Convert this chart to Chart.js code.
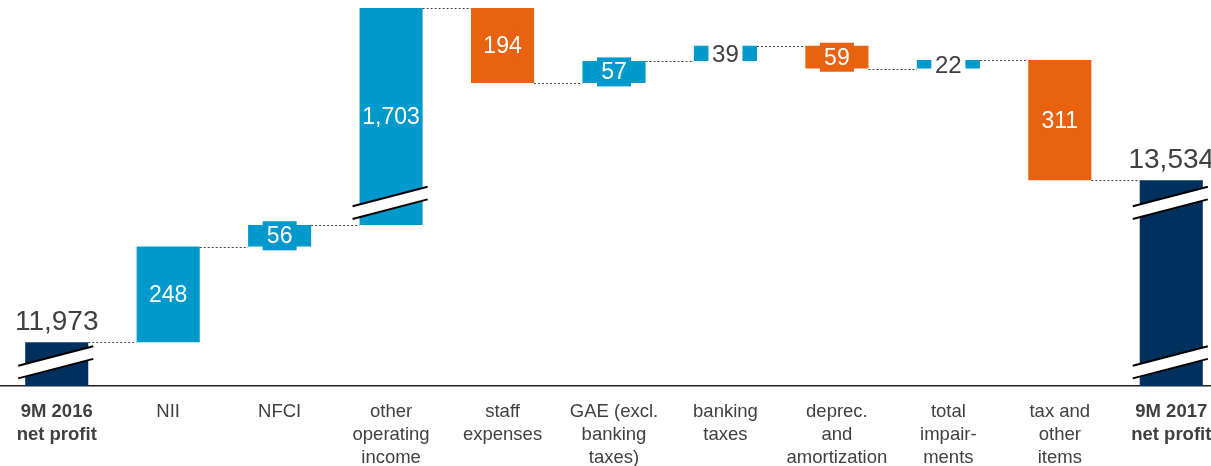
<!DOCTYPE html>
<html>
<head>
<meta charset="utf-8">
<script src="https://cdn.jsdelivr.net/npm/chart.js@4"></script>
<style>
  html, body { margin: 0; padding: 0; background: #fff; overflow: hidden; }
  #wrap { width: 1228px; height: 466px; }
</style>
</head>
<body>
<div id="wrap"><canvas id="bridge"></canvas></div>
<script>
// net profit bridge, 9M 2016 -> 9M 2017
const categories = [
  ['9M 2016', 'net profit'], ['NII'], ['NFCI'], ['other', 'operating', 'income'],
  ['staff', 'expenses'], ['GAE (excl.', 'banking', 'taxes)'], ['banking', 'taxes'],
  ['deprec.', 'and', 'amortization'], ['total', 'impair-', 'ments'],
  ['tax and', 'other', 'items'], ['9M 2017', 'net profit']
];
const startTotal = 11973;
const deltas = [248, 56, 1703, -194, 57, 39, -59, 22, -311];
const endTotal = 13534;
// stretches of the value axis that are cut out (drawn as breaks)
const axisGaps = [[62, 11922], [12335, 13476]];

const NAVY = '#00305e';
const BLUE = '#0099cc';
const ORANGE = '#e8620f';
const TEXT = '#404040';
const FONT = '"Liberation Sans", Arial, sans-serif';

function toAxis(v) {
  let d = v;
  for (const [a, b] of axisGaps) {
    if (v >= b) d -= (b - a);
    else if (v > a) d -= (v - a);
  }
  return d;
}

// build floating bars
const realRanges = [[0, startTotal]];
let running = startTotal;
let peak = startTotal;
deltas.forEach(d => {
  realRanges.push([running, running + d]);
  running += d;
  peak = Math.max(peak, running);
});
realRanges.push([0, endTotal]);

const barData = realRanges.map(r => [toAxis(r[0]), toAxis(r[1])]);
const barColors = realRanges.map((r, i) => {
  if (i === 0 || i === realRanges.length - 1) return NAVY;
  return r[1] >= r[0] ? BLUE : ORANGE;
});
const barLabels = realRanges.map((r, i) => {
  if (i === 0 || i === realRanges.length - 1) return r[1].toLocaleString('en-US');
  return Math.abs(r[1] - r[0]).toLocaleString('en-US');
});

const bridgePlugin = {
  id: 'bridge',
  afterDatasetsDraw(chart) {
    const ctx = chart.ctx;
    const y = chart.scales.y;
    const bars = chart.getDatasetMeta(0).data;
    const last = bars.length - 1;

    // dotted connectors at running totals
    ctx.save();
    ctx.strokeStyle = '#444';
    ctx.lineWidth = 1;
    ctx.setLineDash([2, 2]);
    for (let i = 0; i < last; i++) {
      const a = bars[i].getProps(['x', 'width'], true);
      const b = bars[i + 1].getProps(['x', 'width'], true);
      const level = realRanges[i][1];
      const py = Math.round(y.getPixelForValue(toAxis(level))) + 0.5;
      ctx.beginPath();
      ctx.moveTo(a.x + a.width / 2, py);
      ctx.lineTo(b.x - b.width / 2, py);
      ctx.stroke();
    }
    ctx.restore();

    // break marks where a bar crosses a cut
    bars.forEach((bar, i) => {
      const p = bar.getProps(['x', 'width'], true);
      const lo = Math.min(...realRanges[i]);
      const hi = Math.max(...realRanges[i]);
      axisGaps.forEach(([a, b]) => {
        if (lo >= a || hi <= b) return;
        const cy = y.getPixelForValue(toAxis(a));
        const x0 = p.x - p.width / 2 - 7;
        const x1 = p.x + p.width / 2 + 5;
        const slope = -19 / 73;
        const yAt = (x, off) => cy + off + (x - p.x) * slope;
        ctx.save();
        ctx.fillStyle = '#fff';
        ctx.beginPath();
        ctx.moveTo(x0, yAt(x0, -6.3));
        ctx.lineTo(x1, yAt(x1, -6.3));
        ctx.lineTo(x1, yAt(x1, 6.3));
        ctx.lineTo(x0, yAt(x0, 6.3));
        ctx.closePath();
        ctx.fill();
        ctx.strokeStyle = '#000';
        ctx.lineWidth = 2;
        [-6.3, 6.3].forEach(off => {
          ctx.beginPath();
          ctx.moveTo(x0, yAt(x0, off));
          ctx.lineTo(x1, yAt(x1, off));
          ctx.stroke();
        });
        ctx.restore();
      });
    });

    // value labels
    ctx.save();
    ctx.textAlign = 'center';
    ctx.textBaseline = 'middle';
    bars.forEach((bar, i) => {
      const p = bar.getProps(['x', 'y', 'base', 'width'], true);
      if (i === 0 || i === last) {
        ctx.fillStyle = TEXT;
        ctx.font = '28px ' + FONT;
        ctx.fillText(barLabels[i], p.x, Math.min(p.y, p.base) - 20);
        return;
      }
      const cy = (p.y + p.base) / 2;
      const h = Math.abs(p.base - p.y);
      if (h < 18) {
        ctx.fillStyle = '#fff';
        ctx.fillRect(p.x - 17, cy - h / 2 - 2, 34, h + 4);
        ctx.fillStyle = TEXT;
        ctx.font = '24px ' + FONT;
        ctx.fillText(barLabels[i], p.x, cy + 2);
      } else {
        ctx.fillStyle = barColors[i];
        ctx.fillRect(p.x - 17, cy - 14.5, 34, 29);
        ctx.fillStyle = '#fff';
        ctx.font = '23px ' + FONT;
        ctx.fillText(barLabels[i], p.x, cy + 1);
      }
    });
    ctx.restore();
  }
};

new Chart(document.getElementById('bridge'), {
  type: 'bar',
  data: {
    labels: categories,
    datasets: [{
      data: barData,
      backgroundColor: barColors,
      borderWidth: 0,
      barPercentage: 0.566,
      categoryPercentage: 1
    }]
  },
  options: {
    responsive: true,
    maintainAspectRatio: false,
    animation: false,
    layout: { padding: { top: 8, left: 1, right: 1, bottom: 0 } },
    plugins: {
      legend: { display: false },
      tooltip: { enabled: false }
    },
    scales: {
      x: {
        grid: { display: false, drawTicks: false },
        border: { display: true, color: '#222', width: 1.5 },
        ticks: {
          autoSkip: false,
          maxRotation: 0,
          padding: 15,
          color: TEXT,
          font: (c) => ({
            family: FONT,
            size: 18.5,
            lineHeight: 1.22,
            weight: (c.index === 0 || c.index === categories.length - 1) ? 'bold' : 'normal'
          })
        },
        afterFit(scale) { scale.height = 80; }
      },
      y: {
        display: false,
        min: 0,
        max: toAxis(peak)
      }
    }
  },
  plugins: [bridgePlugin]
});
</script>
</body>
</html>
